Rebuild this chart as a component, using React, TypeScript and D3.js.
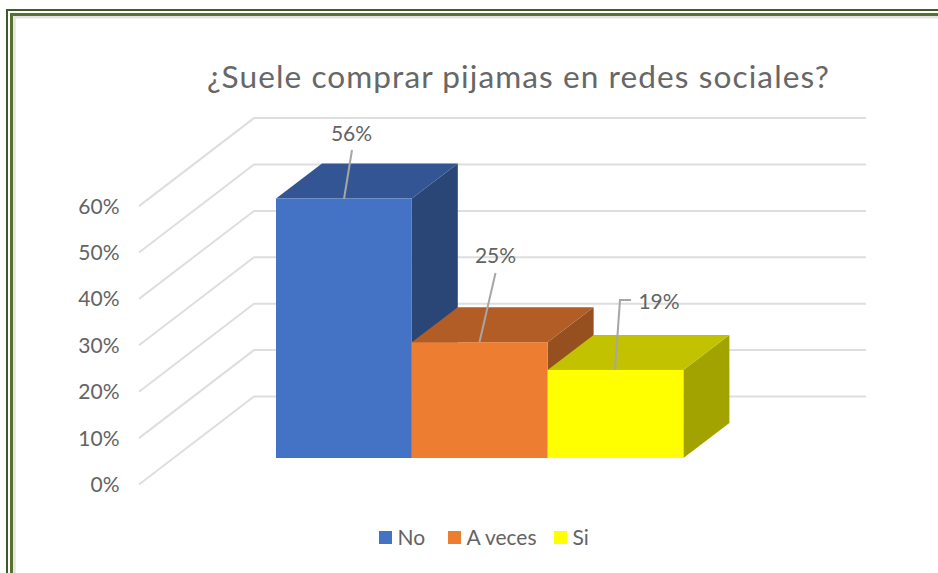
import React from "react";
import * as d3 from "d3";

const categories = ["No", "A veces", "Si"];
const values = [56, 25, 19];
const labels = ["56%", "25%", "19%"];
const ticks = [0, 10, 20, 30, 40, 50, 60];
const faceColors = ["#4472c4", "#ed7d31", "#ffff00"];
const topColors = ["#335593", "#b25d25", "#c2c200"];
const sideColors = ["#2a4677", "#964f1f", "#a3a300"];

const font = "Lato, 'Open Sans', sans-serif";
const ink = "#636363";

export default function App() {
  // Front plane of the wall frame
  const yFront = d3.scaleLinear().domain([0, 60]).range([484.5, 206.1]);
  const depthX = 115;
  const depthY = 88;
  const xLeft = 139;
  const xBack = xLeft + depthX;
  const xRight = 866;

  // Bar band
  const barBase = 458;
  const barY = d3.scaleLinear().domain([0, 60]).range([barBase, barBase - 278]);
  const x = d3.scaleBand().domain(categories).range([276, 683.4]).padding(0);
  const bd = { dx: 46, dy: 35 };

  const leaderPaths = [
    "M344 199L352 150",
    "M479.5 342L495.5 273",
    "M615 370L620 300L631 300",
  ];
  const labelPos = [
    { x: 351.5, y: 141 },
    { x: 495.5, y: 263 },
    { x: 659, y: 309 },
  ];

  return (
    <svg
      width={938}
      height={573}
      style={{ position: "absolute", left: 0, top: 0, background: "#fff" }}
    >
      {/* Frame */}
      <rect x={0} y={0} width={938} height={573} fill="#fff" />
      <path d="M7 573V10H938" fill="none" stroke="#3f5a26" strokeWidth={2} />
      <path d="M11.5 573V14.5H938" fill="none" stroke="#57722f" strokeWidth={3} />
      <path d="M14.5 573V17.3H938" fill="none" stroke="#e3e3e3" strokeWidth={2.4} />

      {/* Title */}
      <text
        x={518.5}
        y={87.5}
        textAnchor="middle"
        fontFamily={font}
        fontSize={31.6}
        fill="#676767"
        letterSpacing={1.08}
      >
        ¿Suele comprar pijamas en redes sociales?
      </text>

      {/* Walls */}
      {ticks.map((t) => (
        <path
          key={t}
          d={`M${xLeft} ${yFront(t)}L${xBack} ${yFront(t) - depthY}H${xRight}`}
          fill="none"
          stroke="#dedede"
          strokeWidth={2}
        />
      ))}

      {/* Axis labels */}
      {ticks.map((t) => (
        <text
          key={t}
          x={119.5}
          y={yFront(t) + 7.5}
          textAnchor="end"
          fontFamily={font}
          fontSize={21}
          fill={ink}
        >
          {t}%
        </text>
      ))}

      {/* Bars */}
      {categories.map((c, i) => {
        const x0 = x(c)!;
        const w = x.bandwidth();
        const top = barY(values[i]);
        return (
          <g key={c}>
            <path
              d={`M${x0 + w} ${top}l${bd.dx} ${-bd.dy}V${barBase - bd.dy}l${-bd.dx} ${bd.dy}Z`}
              fill={sideColors[i]}
            />
            <path
              d={`M${x0} ${top}l${bd.dx} ${-bd.dy}h${w}l${-bd.dx} ${bd.dy}Z`}
              fill={topColors[i]}
            />
            <rect x={x0} y={top} width={w} height={barBase - top} fill={faceColors[i]} />
          </g>
        );
      })}

      {/* Leaders and data labels */}
      {leaderPaths.map((d, i) => (
        <path key={i} d={d} fill="none" stroke="#a6a6a6" strokeWidth={2} />
      ))}
      {labels.map((l, i) => (
        <text
          key={l}
          x={labelPos[i].x}
          y={labelPos[i].y}
          textAnchor="middle"
          fontFamily={font}
          fontSize={21}
          fill={ink}
        >
          {l}
        </text>
      ))}

      {/* Legend */}
      {categories.map((c, i) => {
        const sx = [379, 448, 554][i];
        return (
          <g key={c}>
            <rect x={sx} y={531} width={13} height={13} fill={faceColors[i]} />
            <text x={sx + 18.5} y={545} fontFamily={font} fontSize={21} fill={ink}>
              {c}
            </text>
          </g>
        );
      })}
    </svg>
  );
}
